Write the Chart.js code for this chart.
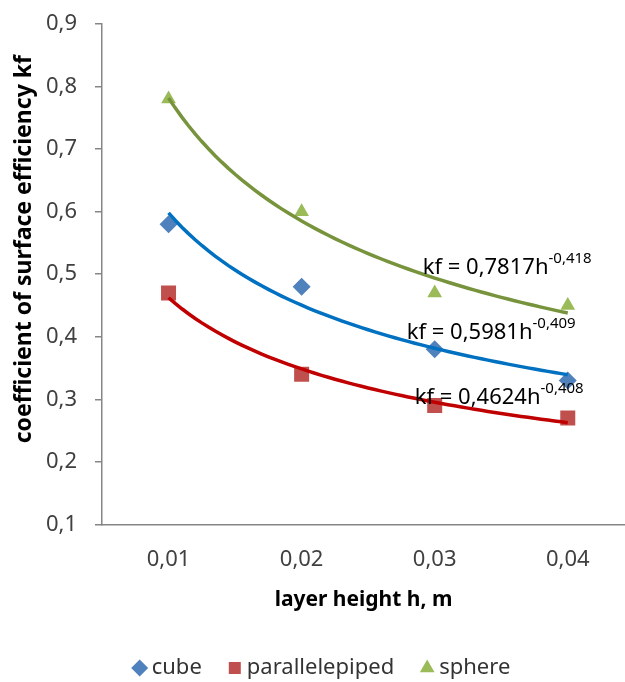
<!DOCTYPE html>
<html lang="en">
<head>
  <meta charset="UTF-8" />
  <title>coefficient of surface efficiency kf</title>
  <script src="https://cdn.jsdelivr.net/npm/chart.js"></script>
  <style>
    html, body { margin: 0; padding: 0; background: #fff; }
    #wrap { width: 625px; height: 682px; }
  </style>
</head>
<body>
<div id="wrap"><canvas id="kfChart"></canvas></div>
<script>
  // layer height h (category index 1..4, shown as metres)
  const heightIdx = [1, 2, 3, 4];
  const heightLabels = ['0,01', '0,02', '0,03', '0,04'];
  const yTicks = [0.1, 0.2, 0.3, 0.4, 0.5, 0.6, 0.7, 0.8, 0.9];

  const cube = [0.58, 0.48, 0.38, 0.33];
  const parallelepiped = [0.47, 0.34, 0.29, 0.27];
  const sphere = [0.78, 0.60, 0.47, 0.45];

  // power trendlines kf = a * h^b  (cube, parallelepiped, sphere)
  const trendA = [0.5981, 0.4624, 0.7817];
  const trendB = [-0.409, -0.408, -0.418];

  const markerColors = ['#4F81BD', '#C0504D', '#9BBB59'];
  const trendColors = ['#0070C0', '#C00000', '#77933C'];
  const names = ['cube', 'parallelepiped', 'sphere'];
  const series = [cube, parallelepiped, sphere];
  const styles = ['rectRot', 'rect', 'triangle'];
  const radii = [9, 10.6, 8.5];

  // where the equation text sits, in data units (x index, y value)
  const eqAnchors = [{x: 2.79, y: 0.406}, {x: 2.85, y: 0.303}, {x: 2.91, y: 0.51}];

  function powerCurve(a, b) {
    const pts = [];
    for (let i = 0; i <= 60; i++) {
      const x = 1 + 3 * i / 60;
      pts.push({x: x, y: a * Math.pow(x, b)});
    }
    return pts;
  }

  const comma = v => String(v).replace('.', ',');
  const FONT = '"Noto Sans", sans-serif';

  const datasets = [];
  series.forEach((vals, i) => {
    datasets.push({
      type: 'scatter',
      label: names[i],
      data: heightIdx.map((x, j) => ({x: x, y: vals[j]})),
      pointStyle: styles[i],
      pointRadius: radii[i],
      backgroundColor: markerColors[i],
      borderColor: markerColors[i],
      pointBorderWidth: 0,
      borderWidth: 0,
      order: 1
    });
  });
  series.forEach((vals, i) => {
    datasets.push({
      type: 'line',
      label: 'trend ' + names[i],
      data: powerCurve(trendA[i], trendB[i]),
      borderColor: trendColors[i],
      borderWidth: 3.5,
      pointRadius: 0,
      showLine: true,
      fill: false,
      order: 0
    });
  });

  const extras = {
    id: 'extras',
    afterLayout(chart) {
      // nudge the legend a little to the left, like the original
      chart.legend.left -= 9;
      chart.legend.right -= 9;
    },
    afterDraw(chart) {
      const ctx = chart.ctx;
      const xs = chart.scales.x, ys = chart.scales.y;
      ctx.save();
      ctx.fillStyle = '#000';
      ctx.textBaseline = 'middle';
      ctx.textAlign = 'left';
      eqAnchors.forEach((p, i) => {
        const px = xs.getPixelForValue(p.x);
        const py = ys.getPixelForValue(p.y);
        const main = 'kf = ' + comma(trendA[i]) + 'h';
        ctx.font = '22px ' + FONT;
        ctx.fillText(main, px, py);
        const w = ctx.measureText(main).width;
        ctx.font = '15px ' + FONT;
        ctx.fillText(comma(trendB[i]), px + w, py - 9);
      });
      // vertical axis title
      ctx.translate(24, ys.getPixelForValue(0.54));
      ctx.rotate(-Math.PI / 2);
      ctx.textAlign = 'center';
      ctx.font = 'bold 23px ' + FONT;
      ctx.fillText('coefficient of surface efficiency kf', 0, 0);
      ctx.restore();
    }
  };

  new Chart(document.getElementById('kfChart'), {
    type: 'scatter',
    data: {datasets: datasets},
    plugins: [extras],
    options: {
      responsive: true,
      maintainAspectRatio: false,
      animation: false,
      layout: {autoPadding: false, padding: {left: 42, top: 24, right: 0, bottom: -7}},
      plugins: {
        tooltip: {enabled: false},
        legend: {
          position: 'bottom',
          labels: {
            usePointStyle: true,
            boxWidth: 2,
            boxHeight: 12,
            padding: 32,
            color: '#333',
            font: {family: FONT, size: 22},
            filter: item => item.datasetIndex < 3
          }
        }
      },
      scales: {
        x: {
          type: 'linear',
          min: 0.5,
          max: 4.43,
          afterBuildTicks: s => { s.ticks = heightIdx.map(v => ({value: v})); },
          afterFit: s => { s.paddingLeft = 0; s.paddingRight = 0; },
          ticks: {
            callback: v => heightLabels[heightIdx.indexOf(v)],
            color: '#404040',
            font: {family: FONT, size: 22},
            padding: 22,
            maxRotation: 0,
            autoSkip: false
          },
          grid: {display: false, drawTicks: false},
          border: {color: '#868686', width: 1.5},
          title: {
            display: true,
            text: 'layer height h, m',
            color: '#000',
            font: {family: FONT, size: 21, weight: 'bold'},
            padding: {top: -7, bottom: 12}
          }
        },
        y: {
          min: 0.1,
          max: 0.9,
          afterBuildTicks: s => { s.ticks = yTicks.map(v => ({value: v})); },
          afterFit: s => { s.width = 60; s.paddingTop = 0; s.paddingBottom = 0; },
          ticks: {
            callback: v => v.toFixed(1).replace('.', ','),
            color: '#404040',
            font: {family: FONT, size: 22},
            padding: 18
          },
          grid: {drawOnChartArea: false, tickLength: 7, color: '#868686', lineWidth: 1.5},
          border: {color: '#868686', width: 1.5}
        }
      }
    }
  });
</script>
</body>
</html>
